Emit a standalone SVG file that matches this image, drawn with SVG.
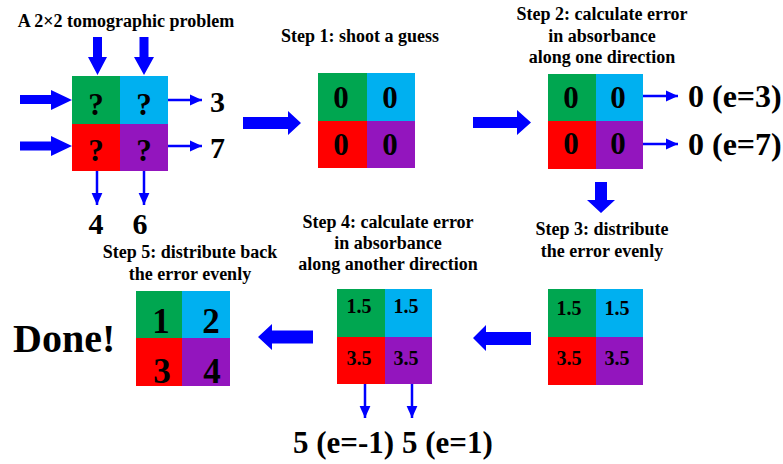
<svg xmlns="http://www.w3.org/2000/svg" width="783" height="464" viewBox="0 0 783 464" font-family="'Liberation Serif', 'Times New Roman', Tinos, 'DejaVu Serif', serif">
<defs>
<style>
text{font-family:'Liberation Serif','Times New Roman',Tinos,'DejaVu Serif',serif;font-weight:bold;fill:#000}
.t{font-size:18px;text-anchor:middle}
.g{fill:#00A650}.c{fill:#00B0F0}.r{fill:#FF0000}.p{fill:#9315BE}
.big{fill:#0000FF}
.thin{stroke:#0000FF;stroke-width:2.5;fill:none;marker-end:url(#ah)}
.n30{font-size:31px;text-anchor:middle}
.n20{font-size:20px;text-anchor:middle}
.n34{font-size:35px;text-anchor:middle}
.lab{font-size:30px}
.lab2{font-size:32px}
</style>
<marker id="ah" markerUnits="userSpaceOnUse" markerWidth="12" markerHeight="12" viewBox="0 0 10 10" refX="10" refY="5" orient="auto">
<path d="M0,0.5 L10,5 L0,9.5 Z" fill="#0000FF"/>
</marker>
</defs>
<rect width="783" height="464" fill="#fff"/>

<g id="problem">
<text class="t" x="126" y="27">A 2×2 tomographic problem</text>
<rect class="g" x="72" y="76" width="48" height="48"/>
<rect class="c" x="120" y="76" width="48" height="48"/>
<rect class="r" x="72" y="124" width="48" height="47"/>
<rect class="p" x="120" y="124" width="48" height="47"/>
<text class="n30" x="96" y="115">?</text>
<text class="n30" x="144" y="115">?</text>
<text class="n30" x="96" y="161">?</text>
<text class="n30" x="144" y="161">?</text>
<text class="lab" x="210" y="112">3</text>
<text class="lab" x="210" y="158">7</text>
<text class="lab" x="96" y="234" text-anchor="middle">4</text>
<text class="lab" x="140" y="234" text-anchor="middle">6</text>
</g>

<g id="step1">
<text class="t" x="360" y="42">Step 1: shoot a guess</text>
<rect class="g" x="318" y="73" width="49" height="48"/>
<rect class="c" x="367" y="73" width="48" height="48"/>
<rect class="r" x="318" y="121" width="49" height="47"/>
<rect class="p" x="367" y="121" width="48" height="47"/>
<text class="n30" x="341" y="108">0</text>
<text class="n30" x="390" y="108">0</text>
<text class="n30" x="341" y="155">0</text>
<text class="n30" x="390" y="155">0</text>
</g>

<g id="step2">
<text class="t" x="602" y="20">Step 2: calculate error</text>
<text class="t" x="602" y="42">in absorbance</text>
<text class="t" x="602" y="63">along one direction</text>
<rect class="g" x="548" y="74" width="48" height="47"/>
<rect class="c" x="596" y="74" width="47" height="47"/>
<rect class="r" x="548" y="121" width="48" height="48"/>
<rect class="p" x="596" y="121" width="47" height="48"/>
<text class="n30" x="571" y="108">0</text>
<text class="n30" x="618" y="108">0</text>
<text class="n30" x="571" y="154">0</text>
<text class="n30" x="618" y="154">0</text>
<text class="lab2" x="688" y="107">0 (e=3)</text>
<text class="lab2" x="688" y="155">0 (e=7)</text>
</g>

<g id="step3">
<text class="t" x="602" y="235">Step 3: distribute</text>
<text class="t" x="602" y="257">the error evenly</text>
<rect class="g" x="548" y="289" width="48" height="48"/>
<rect class="c" x="596" y="289" width="47" height="48"/>
<rect class="r" x="548" y="337" width="48" height="48"/>
<rect class="p" x="596" y="337" width="47" height="48"/>
<text class="n20" x="569" y="315">1.5</text>
<text class="n20" x="617" y="315">1.5</text>
<text class="n20" x="569" y="365">3.5</text>
<text class="n20" x="617" y="365">3.5</text>
</g>

<g id="step4">
<text class="t" x="388" y="228">Step 4: calculate error</text>
<text class="t" x="388" y="249">in absorbance</text>
<text class="t" x="388" y="270">along another direction</text>
<rect class="g" x="337" y="289" width="48" height="48"/>
<rect class="c" x="385" y="289" width="47" height="48"/>
<rect class="r" x="337" y="337" width="48" height="47"/>
<rect class="p" x="385" y="337" width="47" height="47"/>
<text class="n20" x="359" y="313">1.5</text>
<text class="n20" x="406" y="313">1.5</text>
<text class="n20" x="359" y="365">3.5</text>
<text class="n20" x="406" y="365">3.5</text>
<text x="293" y="453" style="font-size:31px">5 (e=-1) 5 (e=1)</text>
</g>

<g id="step5">
<text class="t" x="190" y="258">Step 5: distribute back</text>
<text class="t" x="190" y="280">the error evenly</text>
<rect class="g" x="136" y="291" width="46" height="47"/>
<rect class="c" x="182" y="291" width="48" height="47"/>
<rect class="r" x="136" y="338" width="46" height="48"/>
<rect class="p" x="182" y="338" width="48" height="48"/>
<text class="n34" x="161" y="333">1</text>
<text class="n34" x="211" y="333">2</text>
<text class="n34" x="162" y="383">3</text>
<text class="n34" x="212" y="383">4</text>
</g>

<g id="done">
<text x="13" y="352" style="font-size:40px">Done!</text>
</g>

<g id="connectors">
<polygon class="big" points="93,37 102,37 102,57 107,57 97.5,75 88,57 93,57"/>
<polygon class="big" points="139.5,37 148.5,37 148.5,57 154,57 144,75 134,57 139.5,57"/>
<polygon class="big" points="20,95 51,95 51,90 72,100 51,110 51,104 20,104"/>
<polygon class="big" points="20,141.5 51,141.5 51,136 72,146 51,156 51,150.5 20,150.5"/>
<line class="thin" x1="168" y1="100" x2="202" y2="100"/>
<line class="thin" x1="168" y1="146" x2="202" y2="146"/>
<line class="thin" x1="97" y1="171" x2="97" y2="205"/>
<line class="thin" x1="144" y1="171" x2="144" y2="205"/>
<polygon class="big" points="243,117 288,117 288,111 301,123 288,135 288,129 243,129"/>
<polygon class="big" points="473,117 517,117 517,110 531,122.5 517,135 517,128 473,128"/>
<line class="thin" x1="643" y1="96" x2="678" y2="96"/>
<line class="thin" x1="643" y1="144" x2="678" y2="144"/>
<polygon class="big" points="595,182 607,182 607,200 615,200 601,213 587,200 595,200"/>
<polygon class="big" points="531,332 486,332 486,325 473,338 486,351 486,345 531,345"/>
<line class="thin" x1="365" y1="384" x2="365" y2="418"/>
<line class="thin" x1="412" y1="384" x2="412" y2="418"/>
<polygon class="big" points="313,330.5 272,330.5 272,324 258,337 272,350 272,343.5 313,343.5"/>
</g>
</svg>
